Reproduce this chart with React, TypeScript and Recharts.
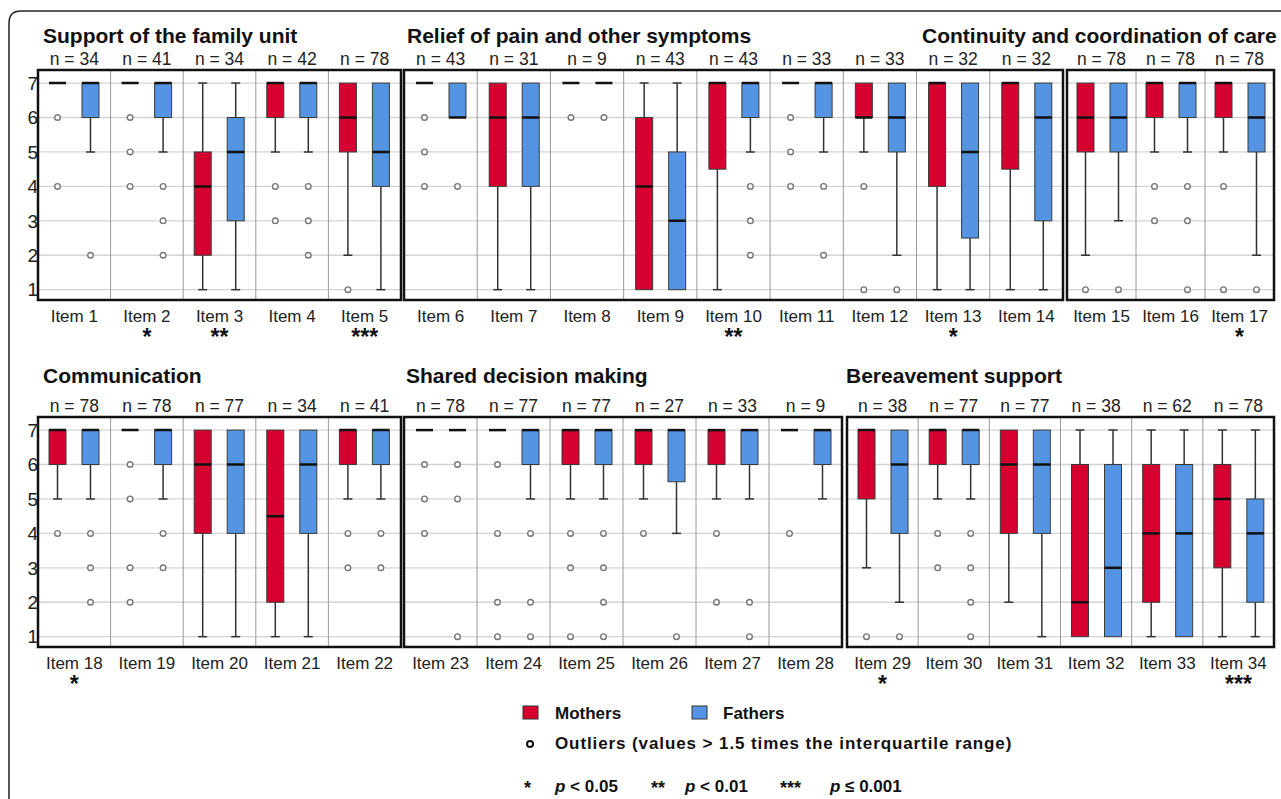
import React from "react";
import { ComposedChart, Bar, XAxis, YAxis, CartesianGrid, ReferenceArea } from "recharts";

const items = [
  "Item 1", "Item 2", "Item 3", "Item 4", "Item 5",
  "Item 6", "Item 7", "Item 8", "Item 9", "Item 10", "Item 11", "Item 12", "Item 13", "Item 14",
  "Item 15", "Item 16", "Item 17",
  "Item 18", "Item 19", "Item 20", "Item 21", "Item 22",
  "Item 23", "Item 24", "Item 25", "Item 26", "Item 27", "Item 28",
  "Item 29", "Item 30", "Item 31", "Item 32", "Item 33", "Item 34",
];

const nCounts = [
  34, 41, 34, 42, 78,
  43, 31, 9, 43, 43, 33, 33, 32, 32,
  78, 78, 78,
  78, 78, 77, 34, 41,
  78, 77, 77, 27, 33, 9,
  38, 77, 77, 38, 62, 78,
];

const stars = [
  "", "*", "**", "", "***",
  "", "", "", "", "**", "", "", "*", "",
  "", "", "*",
  "*", "", "", "", "",
  "", "", "", "", "", "",
  "*", "", "", "", "", "***",
];

// [lower whisker, Q1, median, Q3, upper whisker]
const motherStats = [
  [7, 7, 7, 7, 7], [7, 7, 7, 7, 7], [1, 2, 4, 5, 7], [5, 6, 7, 7, 7], [2, 5, 6, 7, 7],
  [7, 7, 7, 7, 7], [1, 4, 6, 7, 7], [7, 7, 7, 7, 7], [1, 1, 4, 6, 7], [1, 4.5, 7, 7, 7],
  [7, 7, 7, 7, 7], [5, 6, 6, 7, 7], [1, 4, 7, 7, 7], [1, 4.5, 7, 7, 7],
  [2, 5, 6, 7, 7], [5, 6, 7, 7, 7], [5, 6, 7, 7, 7],
  [5, 6, 7, 7, 7], [7, 7, 7, 7, 7], [1, 4, 6, 7, 7], [1, 2, 4.5, 7, 7], [5, 6, 7, 7, 7],
  [7, 7, 7, 7, 7], [7, 7, 7, 7, 7], [5, 6, 7, 7, 7], [5, 6, 7, 7, 7], [5, 6, 7, 7, 7], [7, 7, 7, 7, 7],
  [3, 5, 7, 7, 7], [5, 6, 7, 7, 7], [2, 4, 6, 7, 7], [1, 1, 2, 6, 7], [1, 2, 4, 6, 7], [1, 3, 5, 6, 7],
];

const fatherStats = [
  [5, 6, 7, 7, 7], [5, 6, 7, 7, 7], [1, 3, 5, 6, 7], [5, 6, 7, 7, 7], [1, 4, 5, 7, 7],
  [6, 6, 6, 7, 7], [1, 4, 6, 7, 7], [7, 7, 7, 7, 7], [1, 1, 3, 5, 7], [5, 6, 7, 7, 7],
  [5, 6, 7, 7, 7], [2, 5, 6, 7, 7], [1, 2.5, 5, 7, 7], [1, 3, 6, 7, 7],
  [3, 5, 6, 7, 7], [5, 6, 7, 7, 7], [2, 5, 6, 7, 7],
  [5, 6, 7, 7, 7], [5, 6, 7, 7, 7], [1, 4, 6, 7, 7], [1, 4, 6, 7, 7], [5, 6, 7, 7, 7],
  [7, 7, 7, 7, 7], [5, 6, 7, 7, 7], [5, 6, 7, 7, 7], [4, 5.5, 7, 7, 7], [5, 6, 7, 7, 7], [5, 6, 7, 7, 7],
  [2, 4, 6, 7, 7], [5, 6, 7, 7, 7], [1, 4, 6, 7, 7], [1, 1, 3, 6, 7], [1, 1, 4, 6, 7], [1, 2, 4, 5, 7],
];

const motherOutliers = [
  [6, 4], [6, 5, 4], [], [4, 3], [1],
  [6, 5, 4], [], [6], [], [], [6, 5, 4], [4, 1], [], [],
  [1], [4, 3], [4, 1],
  [4], [6, 5, 3, 2], [], [], [4, 3],
  [6, 5, 4], [6, 4, 2, 1], [4, 3, 1], [4], [4, 2], [4],
  [1], [4, 3], [], [], [], [],
];

const fatherOutliers = [
  [2], [4, 3, 2], [], [4, 3, 2], [],
  [4], [], [6], [], [4, 3, 2], [4, 2], [1], [], [],
  [1], [4, 3, 1], [1],
  [4, 3, 2], [4, 3], [], [], [4, 3],
  [6, 5, 1], [4, 2, 1], [4, 3, 2, 1], [1], [2, 1], [],
  [1], [4, 3, 2, 1], [], [], [], [],
];

const groupTitles = [
  "Support of the family unit",
  "Relief of pain and other symptoms",
  "Continuity and coordination of care",
  "Communication",
  "Shared decision making",
  "Bereavement support",
];
const groupSizes = [5, 9, 3, 5, 6, 6];
const yTicks = [1, 2, 3, 4, 5, 6, 7];

const RED = "#D5002F";
const BLUE = "#5494E2";
const DMIN = 0.7;
const DMAX = 7.38;
const PLOT_H = 230;
const FONT = "'Liberation Sans', Arial, sans-serif";

// where each panel's framed plot area sits on the page
const panels = [
  { left: 38, right: 401, top: 70, titleX: 43, titleY: 43, axis: true },
  { left: 404, right: 1063, top: 70, titleX: 407, titleY: 43, axis: false },
  { left: 1067, right: 1274, top: 70, titleX: 922, titleY: 43, axis: false },
  { left: 38, right: 401, top: 417, titleX: 43, titleY: 383, axis: true },
  { left: 404, right: 842, top: 417, titleX: 406, titleY: 383, axis: false },
  { left: 847, right: 1274, top: 417, titleX: 846, titleY: 383, axis: false },
];

function rowsFor(g: number) {
  const start = groupSizes.slice(0, g).reduce((a, b) => a + b, 0);
  return items.slice(start, start + groupSizes[g]).map((item, i) => {
    const k = start + i;
    return {
      item,
      nLabel: `n = ${nCounts[k]}`,
      star: stars[k],
      m: motherStats[k],
      f: fatherStats[k],
      mo: motherOutliers[k],
      fo: fatherOutliers[k],
    };
  });
}

// each bar spans the whole value domain, so its pixel box gives the y scale
const mothersRange = () => [DMIN, DMAX];
const fathersRange = () => [DMIN, DMAX];

function BoxPlot(props: any) {
  const { x, y, width, height, stats, outliers, fill } = props;
  const py = (v: number) => y + (height * (DMAX - v)) / (DMAX - DMIN);
  const [lo, q1, med, q3, hi] = stats;
  const cx = x + width / 2;
  const cap = 4.5;
  const wh = { stroke: "#333", strokeWidth: 1.5 };
  return (
    <g>
      {hi > q3 && (
        <>
          <line x1={cx} x2={cx} y1={py(hi)} y2={py(q3)} {...wh} />
          <line x1={cx - cap} x2={cx + cap} y1={py(hi)} y2={py(hi)} {...wh} />
        </>
      )}
      {lo < q1 && (
        <>
          <line x1={cx} x2={cx} y1={py(q1)} y2={py(lo)} {...wh} />
          <line x1={cx - cap} x2={cx + cap} y1={py(lo)} y2={py(lo)} {...wh} />
        </>
      )}
      {q3 > q1 && (
        <rect x={x} y={py(q3)} width={width} height={py(q1) - py(q3)} fill={fill} stroke="#3a3a3a" strokeWidth={1} />
      )}
      <line x1={x} x2={x + width} y1={py(med)} y2={py(med)} stroke="#111" strokeWidth={2.5} />
      {outliers.map((o: number, i: number) => (
        <circle key={i} cx={cx} cy={py(o)} r={2.8} fill="#fff" stroke="#777" strokeWidth={1.4} />
      ))}
    </g>
  );
}

function ItemTick(props: any) {
  const { x, y, payload, rows } = props;
  const star = rows[payload.index]?.star;
  return (
    <g>
      <text x={x} y={y + 22} textAnchor="middle" fontSize={17} fill="#222" fontFamily={FONT}>
        {payload.value}
      </text>
      {star && (
        <text x={x} y={y + 45} textAnchor="middle" fontSize={23} fontWeight="bold" fill="#111" fontFamily={FONT}>
          {star}
        </text>
      )}
    </g>
  );
}

function Panel({ g }: { g: number }) {
  const p = panels[g];
  const rows = rowsFor(g);
  const yw = p.axis ? 30 : 0;
  const n = rows.length;
  const separators = ({ offset }: any) =>
    rows.slice(1).map((_, i) => offset.left + (offset.width * (i + 1)) / n);
  return (
    <div style={{ position: "absolute", left: p.left - 3 - yw, top: p.top - 30 }}>
      <ComposedChart
        width={p.right - p.left + 6 + yw}
        height={PLOT_H + 80}
        data={rows}
        margin={{ top: 0, right: 3, bottom: 0, left: 3 }}
        barSize={17}
        barGap={16}
      >
        <CartesianGrid vertical={false} stroke="#d4d4d4" strokeWidth={1.3} />
        <CartesianGrid horizontal={false} verticalCoordinatesGenerator={separators} stroke="#9a9a9a" />
        <XAxis
          dataKey="item"
          interval={0}
          axisLine={false}
          tickLine={false}
          tickSize={0}
          tickMargin={0}
          height={50}
          tick={(tp: any) => <ItemTick {...tp} rows={rows} />}
        />
        <XAxis
          xAxisId="n"
          dataKey="nLabel"
          orientation="top"
          interval={0}
          axisLine={false}
          tickLine={false}
          tickSize={0}
          tickMargin={5}
          height={30}
          tick={{ fontSize: 17.5, fill: "#222", fontFamily: FONT }}
        />
        <YAxis
          type="number"
          domain={[DMIN, DMAX]}
          ticks={yTicks}
          allowDataOverflow
          hide={!p.axis}
          width={30}
          axisLine={false}
          tickLine={false}
          tickSize={0}
          tickMargin={0}
          tick={{ fontSize: 19, fill: "#222", fontFamily: FONT }}
        />
        <Bar
          dataKey={mothersRange}
          name="Mothers"
          fill={RED}
          isAnimationActive={false}
          shape={(bp: any) => <BoxPlot {...bp} stats={bp.payload.m} outliers={bp.payload.mo} fill={RED} />}
        />
        <Bar
          dataKey={fathersRange}
          name="Fathers"
          fill={BLUE}
          isAnimationActive={false}
          shape={(bp: any) => <BoxPlot {...bp} stats={bp.payload.f} outliers={bp.payload.fo} fill={BLUE} />}
        />
        <ReferenceArea y1={DMIN} y2={DMAX} fill="none" stroke="#111" strokeWidth={2.5} ifOverflow="visible" />
      </ComposedChart>
    </div>
  );
}

export default function App() {
  return (
    <div
      style={{
        position: "absolute",
        left: 0,
        top: 0,
        width: 1281,
        height: 799,
        overflow: "hidden",
        background: "#fff",
        fontFamily: FONT,
      }}
    >
      <svg width={1281} height={799} style={{ position: "absolute", left: 0, top: 0 }}>
        <path d="M 9 820 L 9 23 Q 9 11 21 11 L 1300 11" fill="none" stroke="#222" strokeWidth={1.5} />
        {panels.map((p, g) => (
          <text key={g} x={p.titleX} y={p.titleY} fontSize={21} fontWeight="bold" fill="#111" fontFamily={FONT}>
            {groupTitles[g]}
          </text>
        ))}
        <g fontFamily={FONT} fontSize={17} fontWeight="bold" fill="#111">
          <rect x={523} y={706} width={15} height={13} fill={RED} stroke="#333" strokeWidth={1} />
          <text x={555} y={719}>Mothers</text>
          <rect x={692} y={706} width={15} height={13} fill={BLUE} stroke="#333" strokeWidth={1} />
          <text x={723} y={719}>Fathers</text>
          <circle cx={530} cy={744} r={3} fill="#fff" stroke="#111" strokeWidth={2} />
          <text x={555} y={749} letterSpacing={0.9}>
            Outliers (values &gt; 1.5 times the interquartile range)
          </text>
          <text x={524} y={794} fontSize={18}>*</text>
          <text x={555} y={792}>
            <tspan fontStyle="italic">p</tspan> &lt; 0.05
          </text>
          <text x={651} y={794} fontSize={18}>**</text>
          <text x={685} y={792}>
            <tspan fontStyle="italic">p</tspan> &lt; 0.01
          </text>
          <text x={780} y={794} fontSize={18}>***</text>
          <text x={830} y={792}>
            <tspan fontStyle="italic">p</tspan> ≤ 0.001
          </text>
        </g>
      </svg>
      {panels.map((_, g) => (
        <Panel key={g} g={g} />
      ))}
    </div>
  );
}
